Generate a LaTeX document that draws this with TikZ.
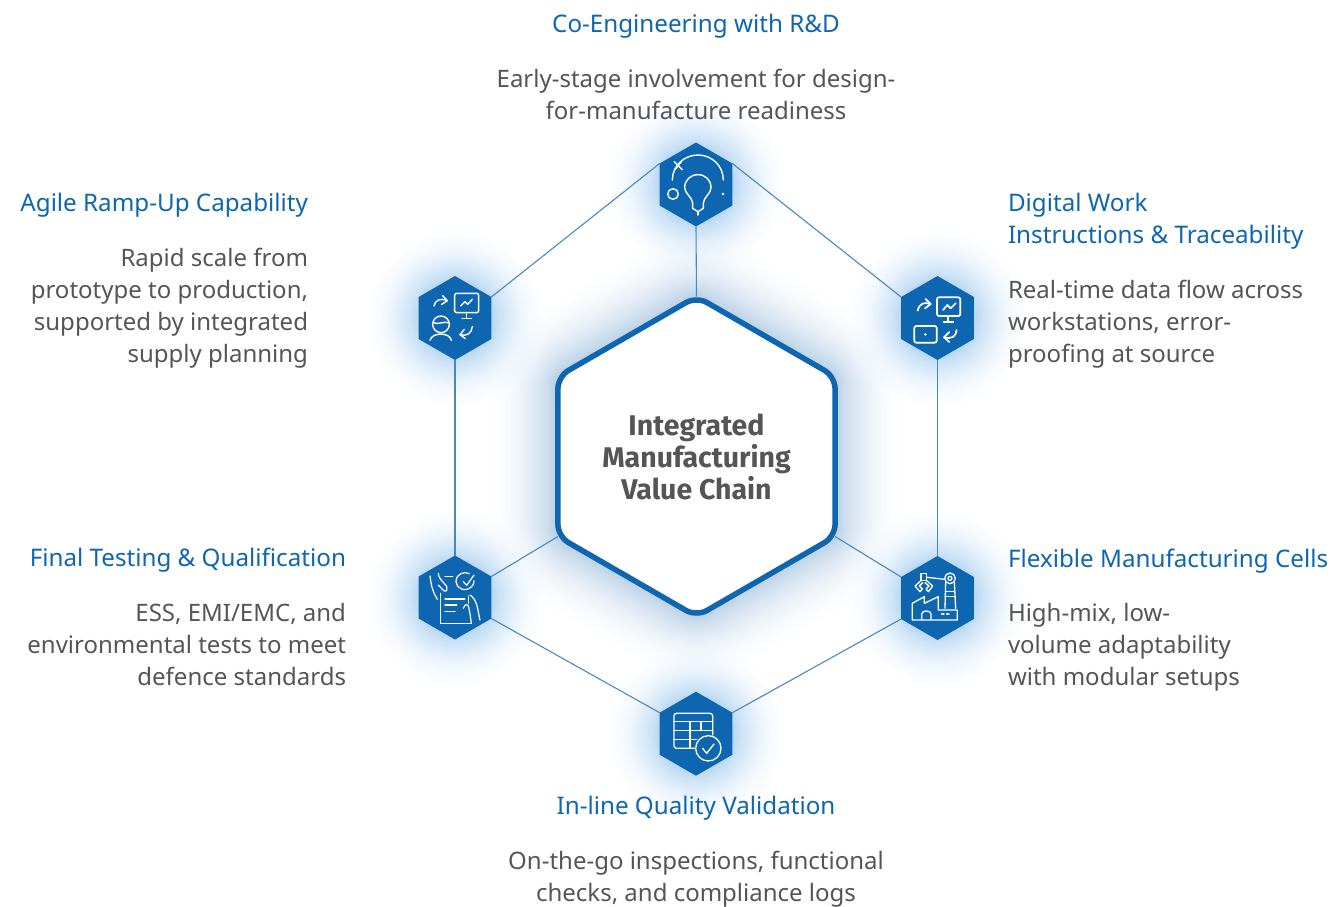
\documentclass[tikz,border=0pt]{standalone}
\usepackage{fontspec}
\setmainfont{Noto Sans}
\newfontfamily\corefont{Fira Sans}
\usetikzlibrary{shapes.geometric}
\definecolor{brand}{HTML}{0F66B0}
\definecolor{linkc}{HTML}{4A88C4}
\definecolor{body}{HTML}{555555}
\definecolor{glowa}{HTML}{1A66AE}
\pgfdeclareradialshading{smallglow}{\pgfpoint{0bp}{0bp}}{rgb(0bp)=(.716,.841,.953); rgb(10bp)=(.716,.841,.953); rgb(12.5bp)=(.80,.888,.967); rgb(15.3bp)=(.866,.925,.978); rgb(18bp)=(.925,.958,.988); rgb(20.8bp)=(.967,.981,.995); rgb(25bp)=(1,1,1); rgb(50bp)=(1,1,1)}
\newcommand{\glowhex}[6]{% cx cy R0 extent layers peak
  \begin{scope}[shift={(#1,#2)}]
  \foreach \k in {#5,...,0}{
    \pgfmathsetmacro{\tt}{\k/#5}
    \pgfmathsetmacro{\rr}{#3+#4*\tt}
    \pgfmathsetmacro{\rc}{6+0.9*#4*\tt}
    \pgfmathsetmacro{\pp}{#6*(1-\tt)*(1-\tt)}
    \fill[glowa!\pp!white,rounded corners=\rc pt] (90:\rr)--(30:\rr)--(-30:\rr)--(-90:\rr)--(-150:\rr)--(150:\rr)--cycle;
  }
  \end{scope}}
\tikzset{
  x=1pt,y=-1pt,
  softglow/.style={shading=smallglow,blend mode=multiply},
  smallhex/.style={regular polygon,regular polygon sides=6,shape border rotate=30,minimum size=84pt,inner sep=0pt,outer sep=0pt,fill=brand},
  bighex/.style={regular polygon,regular polygon sides=6,shape border rotate=30,minimum size=320pt,inner sep=0pt,outer sep=0pt,fill=white,draw=brand,line width=5.5pt,rounded corners=12pt},
  link/.style={draw=linkc,line width=1.1pt},
  head/.style={text=brand,font=\fontsize{24.2}{32}\selectfont,inner sep=0pt,outer sep=0pt},
  para/.style={text=body,font=\fontsize{24}{32}\selectfont,inner sep=0pt,outer sep=0pt,execute at begin node={\rule{0pt}{22.4pt}}},
  icon/.style 2 args={shift={(#1,#2)},x=0.33333pt,y=-0.33333pt,draw=white,line width=1.4pt,line cap=round,line join=round}
}
\begin{document}
\begin{tikzpicture}
\useasboundingbox (0,0) rectangle (1330,907);
\fill[white] (0,0) rectangle (1330,907);
% glows
\glowhex{696}{456.5}{160}{84}{56}{31}
\shade[softglow] (696,184.5) circle [radius=90];
\shade[softglow] (455,318) circle [radius=90];
\shade[softglow] (937.5,318) circle [radius=90];
\shade[softglow] (455,597.5) circle [radius=90];
\shade[softglow] (937.5,598) circle [radius=90];
\shade[softglow] (696,733.7) circle [radius=90];
% nodes
\node[bighex] (core) at (696.5,456.5) {};
\node[align=center,text=body,font=\corefont\bfseries\fontsize{28.5}{32}\selectfont] (corelabel) at (696.5,456.5) {Integrated\\Manufacturing\\Value Chain};
\node[smallhex] (rd) at (696,184.5) {};
\node[smallhex] (ramp) at (455,318) {};
\node[smallhex] (digi) at (937.5,318) {};
\node[smallhex] (test) at (455,597.5) {};
\node[smallhex] (cell) at (937.5,598) {};
\node[smallhex] (qual) at (696,733.7) {};
% connectors
\draw[link] (rd.corner 6) -- (digi.corner 2);
\draw[link] (digi.corner 4) -- (cell.corner 1);
\draw[link] (cell.corner 3) -- (qual.corner 6);
\draw[link] (qual.corner 2) -- (test.corner 5);
\draw[link] (test.corner 1) -- (ramp.corner 4);
\draw[link] (ramp.corner 6) -- (rd.corner 2);
\draw[link] (rd.corner 4) -- (core.corner 1);
\draw[link] (test.corner 6) -- (core.corner 3);
\draw[link] (cell.corner 2) -- (core.corner 5);
% icon 1 bulb
\begin{scope}[icon={640}{130}]
\draw (97,150) .. controls (97,108) and (132,75) .. (174,75) .. controls (216,75) and (250,108) .. (250,150);
\draw (103,95) -- (127,119) (124,95) -- (105,119);
\draw (99,192) circle [radius=16];
\fill[white] (249,192) circle [radius=4];
\draw (158,218) .. controls (155,200) and (134,190) .. (134,173) .. controls (134,150) and (152,134) .. (174,134) .. controls (196,134) and (213,150) .. (213,173) .. controls (213,190) and (193,200) .. (190,218) -- (190,235) -- (174,245) -- (158,235) -- cycle;
\draw (174,245) -- (174,255);
\end{scope}
% icon 2 ramp
\begin{scope}[icon={400}{260}]
\draw[rounded corners=2pt] (164,100) rectangle (236,158);
\draw (200,158) -- (200,175) (186,175) -- (214,175);
\draw (182,138) -- (195,125) -- (203,133) -- (217,118);
\draw (102,138) .. controls (105,120) and (122,113) .. (142,122);
\draw (128,107) -- (142,122) -- (125,133);
\draw (217,200) .. controls (215,220) and (200,230) .. (180,224);
\draw (193,208) -- (180,224) -- (196,236);
\draw (123,193) circle [radius=25];
\draw (100,188) .. controls (115,195) and (130,183) .. (146,188);
\draw (90,241) .. controls (95,216) and (150,216) .. (154,241);
\end{scope}
% icon 3 digital
\begin{scope}[icon={885}{260},line width=1.7pt]
\draw[rounded corners=2pt] (156,112) rectangle (226,168);
\draw (190,168) -- (190,185) (176,185) -- (205,185);
\draw (174,150) -- (187,135) -- (197,145) -- (212,130);
\draw (98,152) .. controls (103,130) and (118,125) .. (136,132);
\draw (122,117) -- (137,132) -- (120,145);
\draw[rounded corners=2pt] (88,198) rectangle (155,248);
\fill[white] (121,223) circle [radius=4];
\draw (215,210) .. controls (213,230) and (200,238) .. (177,232);
\draw (193,216) -- (177,232) -- (193,246);
\end{scope}
% icon 4 testing
\begin{scope}[icon={400}{540},line width=1.2pt]
\draw (208,101) .. controls (195,93) and (168,100) .. (168,125) .. controls (168,145) and (195,158) .. (215,140) .. controls (220,135) and (222,130) .. (222,122);
\draw (190,125) -- (200,136) -- (222,105);
\draw (135,110) -- (158,110);
\draw (122,160) -- (122,250) -- (212,250);
\draw (135,177) -- (195,177) (135,195) -- (170,195) (135,215) -- (165,215);
\draw (205,168) -- (205,190);
\draw (90,108) .. controls (93,130) and (95,150) .. (112,178);
\draw (115,100) .. controls (116,125) and (150,135) .. (140,152) .. controls (132,160) and (122,140) .. (115,135);
\draw (210,165) .. controls (232,180) and (232,205) .. (240,240);
\draw (190,205) .. controls (195,190) and (205,190) .. (207,205) .. controls (210,220) and (212,235) .. (214,250);
\end{scope}
% icon 5 factory
\begin{scope}[icon={885}{540},line width=1.3pt]
\draw (82,240) -- (82,190) -- (118,170) -- (118,190) -- (160,170) -- (160,210) -- (217,210) -- (217,240) -- cycle;
\draw (110,240) -- (110,222) .. controls (110,210) and (138,210) .. (138,222) -- (138,240);
\draw (170,222) -- (177,222) (185,222) -- (192,222);
\draw (195,115) circle [radius=16];
\draw (195,115) circle [radius=6];
\draw (182,127) -- (180,205) (208,127) -- (212,205);
\draw (181,155) -- (209,155) (180,170) -- (211,170);
\draw (126,112) -- (180,118);
\draw (108,100) -- (125,100) -- (125,122) -- (108,122) -- cycle;
\draw (108,122) -- (90,138) -- (105,155) -- (112,147) -- (103,138) -- (113,128);
\draw (125,122) -- (143,138) -- (130,155) -- (123,147) -- (132,138) -- (120,128);
\end{scope}
% icon 6 table
\begin{scope}[icon={640}{680},line width=1.3pt]
\draw[rounded corners=2.5pt] (165,205) -- (102,205) -- (102,100) -- (218,100) -- (218,165);
\draw (102,125) -- (218,125) (102,152) -- (218,152) (102,178) -- (170,178);
\draw (150,125) -- (150,205) (183,125) -- (183,152);
\fill[brand] (205,205) circle [radius=38];
\draw (205,205) circle [radius=38];
\draw (188,205) -- (200,220) -- (222,192);
\end{scope}
% labels
\node[head,anchor=base] (h1) at (696,33) {Co-Engineering with R\&D};
\node[para,anchor=north,align=center] (p1) at (696,69) {Early-stage involvement for design-\\for-manufacture readiness};
\node[head,anchor=base east] (h2) at (308,211) {Agile Ramp-Up Capability};
\node[para,anchor=north east,align=right] (p2) at (308,248) {Rapid scale from\\prototype to production,\\supported by integrated\\supply planning};
\node[para,text=brand,font=\fontsize{24.2}{32}\selectfont,anchor=north west,align=left] (h3) at (1008,193) {Digital Work\\Instructions \& Traceability};
\node[para,anchor=north west,align=left] (p3) at (1008,280) {Real-time data flow across\\workstations, error-\\proofing at source};
\node[head,anchor=base east] (h4) at (346,566) {Final Testing \& Qualification};
\node[para,anchor=north east,align=right] (p4) at (346,603) {ESS, EMI/EMC, and\\environmental tests to meet\\defence standards};
\node[head,anchor=base west] (h5) at (1008,567) {Flexible Manufacturing Cells};
\node[para,anchor=north west,align=left] (p5) at (1008,603) {High-mix, low-\\volume adaptability\\with modular setups};
\node[head,anchor=base] (h6) at (696,814) {In-line Quality Validation};
\node[para,anchor=north,align=center] (p6) at (696,851) {On-the-go inspections, functional\\checks, and compliance logs};
\end{tikzpicture}
\end{document}
